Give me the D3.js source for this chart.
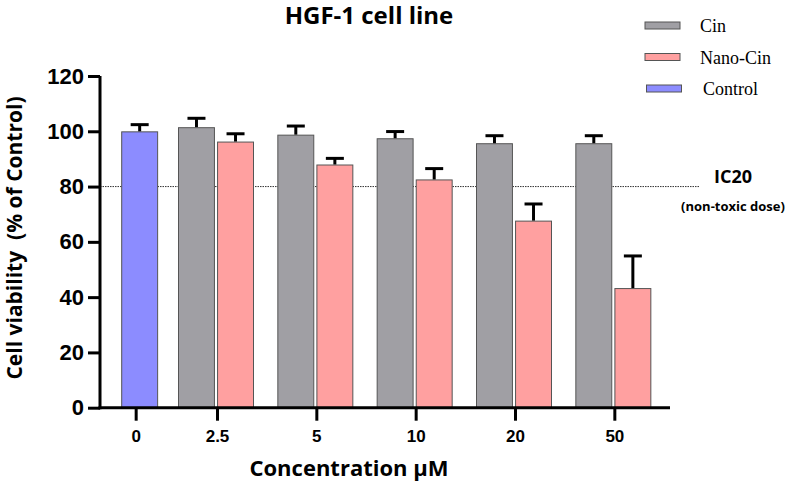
<!DOCTYPE html>
<html>
<head>
<meta charset="utf-8">
<script src="https://cdn.jsdelivr.net/npm/d3@7"></script>
<style>
  body { margin: 0; background: #fff; }
  svg { display: block; }
</style>
</head>
<body>
<div id="chart"></div>
<script>
// values
var concentrations = ["0", "2.5", "5", "10", "20", "50"];
var seriesNames = ["Cin", "Nano-Cin", "Control"];
var controlMean = [99.8];
var controlSd = [2.6];
var cinMean = [101.3, 98.6, 97.3, 95.5, 95.5];
var cinSd = [3.4, 3.3, 2.6, 2.9, 2.9];
var nanoMean = [96.1, 87.8, 82.4, 67.5, 43.1];
var nanoSd = [3.0, 2.4, 4.1, 6.2, 11.8];
var yTicks = [0, 20, 40, 60, 80, 100, 120];
var ic20 = 80;

var width = 786, height = 482;
var colors = {"Cin": "#a09fa4", "Nano-Cin": "#ffa0a0", "Control": "#8c8cff"};

var svg = d3.select("#chart").append("svg")
  .attr("width", width)
  .attr("height", height);

var y = d3.scaleLinear().domain([0, 120]).range([407.7, 76]);

var x0 = d3.scaleBand()
  .domain(concentrations)
  .range([67, 663])
  .paddingInner(0)
  .paddingOuter(0);

var x1 = d3.scaleBand()
  .domain(["Cin", "Nano-Cin"])
  .range([-37.5, 37.5])
  .paddingInner(0.08);

// build bar records from the arrays
var bars = [];
bars.push({cat: "0", series: "Control", mean: controlMean[0], sd: controlSd[0]});
concentrations.slice(1).forEach(function(c, i) {
  bars.push({cat: c, series: "Cin", mean: cinMean[i], sd: cinSd[i]});
  bars.push({cat: c, series: "Nano-Cin", mean: nanoMean[i], sd: nanoSd[i]});
});

var ctrlShift = 23;
function barLeft(d) {
  var c = x0(d.cat) + x0.bandwidth() / 2;
  if (d.series === "Control") return c + ctrlShift - x1.bandwidth() / 2;
  return c + x1(d.series);
}

// IC20 dotted line
svg.append("line")
  .attr("x1", 100).attr("x2", 700)
  .attr("y1", y(ic20)).attr("y2", y(ic20))
  .attr("stroke", "#333")
  .attr("stroke-width", 1)
  .attr("stroke-dasharray", "1.5,1");

// bars
svg.append("g").selectAll("rect")
  .data(bars)
  .enter().append("rect")
  .attr("x", barLeft)
  .attr("y", function(d) { return y(d.mean); })
  .attr("width", x1.bandwidth())
  .attr("height", function(d) { return y(0) - y(d.mean); })
  .attr("fill", function(d) { return colors[d.series]; })
  .attr("stroke", "#555")
  .attr("stroke-width", 1);

// error bars (upper only)
var err = svg.append("g").selectAll("g")
  .data(bars)
  .enter().append("g");
err.append("line")
  .attr("x1", function(d) { return barLeft(d) + x1.bandwidth() / 2; })
  .attr("x2", function(d) { return barLeft(d) + x1.bandwidth() / 2; })
  .attr("y1", function(d) { return y(d.mean) - 0.5; })
  .attr("y2", function(d) { return y(d.mean + d.sd); })
  .attr("stroke", "#000").attr("stroke-width", 3);
err.append("line")
  .attr("x1", function(d) { return barLeft(d) + x1.bandwidth() / 2 - 9; })
  .attr("x2", function(d) { return barLeft(d) + x1.bandwidth() / 2 + 9; })
  .attr("y1", function(d) { return y(d.mean + d.sd); })
  .attr("y2", function(d) { return y(d.mean + d.sd); })
  .attr("stroke", "#000").attr("stroke-width", 3);

// y axis
var yAxis = svg.append("g")
  .attr("transform", "translate(100,0)")
  .call(d3.axisLeft(y).tickValues(yTicks).tickSize(12).tickPadding(4));
yAxis.select(".domain").attr("d", "M0," + y(120) + "V" + (y(0) + 1.5));
yAxis.selectAll("path, line").attr("stroke", "#000").attr("stroke-width", 3);
yAxis.selectAll("text")
  .attr("fill", "#000")
  .style("font-family", "'Liberation Sans', Arial, sans-serif")
  .style("font-weight", "bold")
  .style("font-size", "22px");

// x axis
var xAxis = svg.append("g")
  .attr("transform", "translate(0," + y(0) + ")")
  .call(d3.axisBottom(x0).tickSize(13).tickPadding(9).tickSizeOuter(0));
xAxis.select(".domain").attr("d", "M98.5,0H670");
xAxis.selectAll(".tick").attr("transform", function(d) {
  var c = x0(d) + x0.bandwidth() / 2;
  return "translate(" + (d === "0" ? c + ctrlShift - 3.5 : c + 1.5) + ",0)";
});
xAxis.selectAll("path, line").attr("stroke", "#000").attr("stroke-width", 3);
xAxis.selectAll("text")
  .attr("fill", "#000")
  .style("font-family", "'Liberation Sans', Arial, sans-serif")
  .style("font-weight", "bold")
  .style("font-size", "17px");

// titles
svg.append("text")
  .attr("x", 369).attr("y", 24)
  .attr("text-anchor", "middle")
  .style("font-family", "'Open Sans', sans-serif")
  .style("font-weight", "bold")
  .style("font-size", "24px")
  .text("HGF-1 cell line");

svg.append("text")
  .attr("transform", "translate(22,238) rotate(-90)")
  .attr("text-anchor", "middle")
  .style("font-family", "'Open Sans', sans-serif")
  .style("font-weight", "bold")
  .style("font-size", "21px")
  .style("white-space", "pre")
  .text("Cell viability  (% of Control)");

svg.append("text")
  .attr("x", 349).attr("y", 476)
  .attr("text-anchor", "middle")
  .style("font-family", "'Open Sans', sans-serif")
  .style("font-weight", "bold")
  .style("font-size", "22px")
  .text("Concentration µM");

// IC20 label
svg.append("text")
  .attr("x", 733).attr("y", 183)
  .attr("text-anchor", "middle")
  .style("font-family", "'Open Sans', sans-serif")
  .style("font-weight", "bold")
  .style("font-size", "18px")
  .text("IC20");
svg.append("text")
  .attr("x", 733).attr("y", 211)
  .attr("text-anchor", "middle")
  .style("font-family", "'Open Sans', sans-serif")
  .style("font-weight", "bold")
  .style("font-size", "13px")
  .text("(non-toxic dose)");

// legend
var legend = svg.append("g").selectAll("g")
  .data(seriesNames)
  .enter().append("g")
  .attr("transform", function(d, i) { return "translate(645," + (22 + i * 31.5) + ")"; });
legend.append("rect")
  .attr("x", function(d, i) { return i === 2 ? 1.5 : 0; })
  .attr("width", 35).attr("height", 7)
  .attr("fill", function(d) { return colors[d]; })
  .attr("stroke", "#555").attr("stroke-width", 1);
legend.append("text")
  .attr("x", function(d, i) { return i === 2 ? 58 : 55; })
  .attr("y", 10)
  .style("font-family", "'Liberation Serif', 'Times New Roman', serif")
  .style("font-size", "18px")
  .text(function(d) { return d; });
</script>
</body>
</html>
